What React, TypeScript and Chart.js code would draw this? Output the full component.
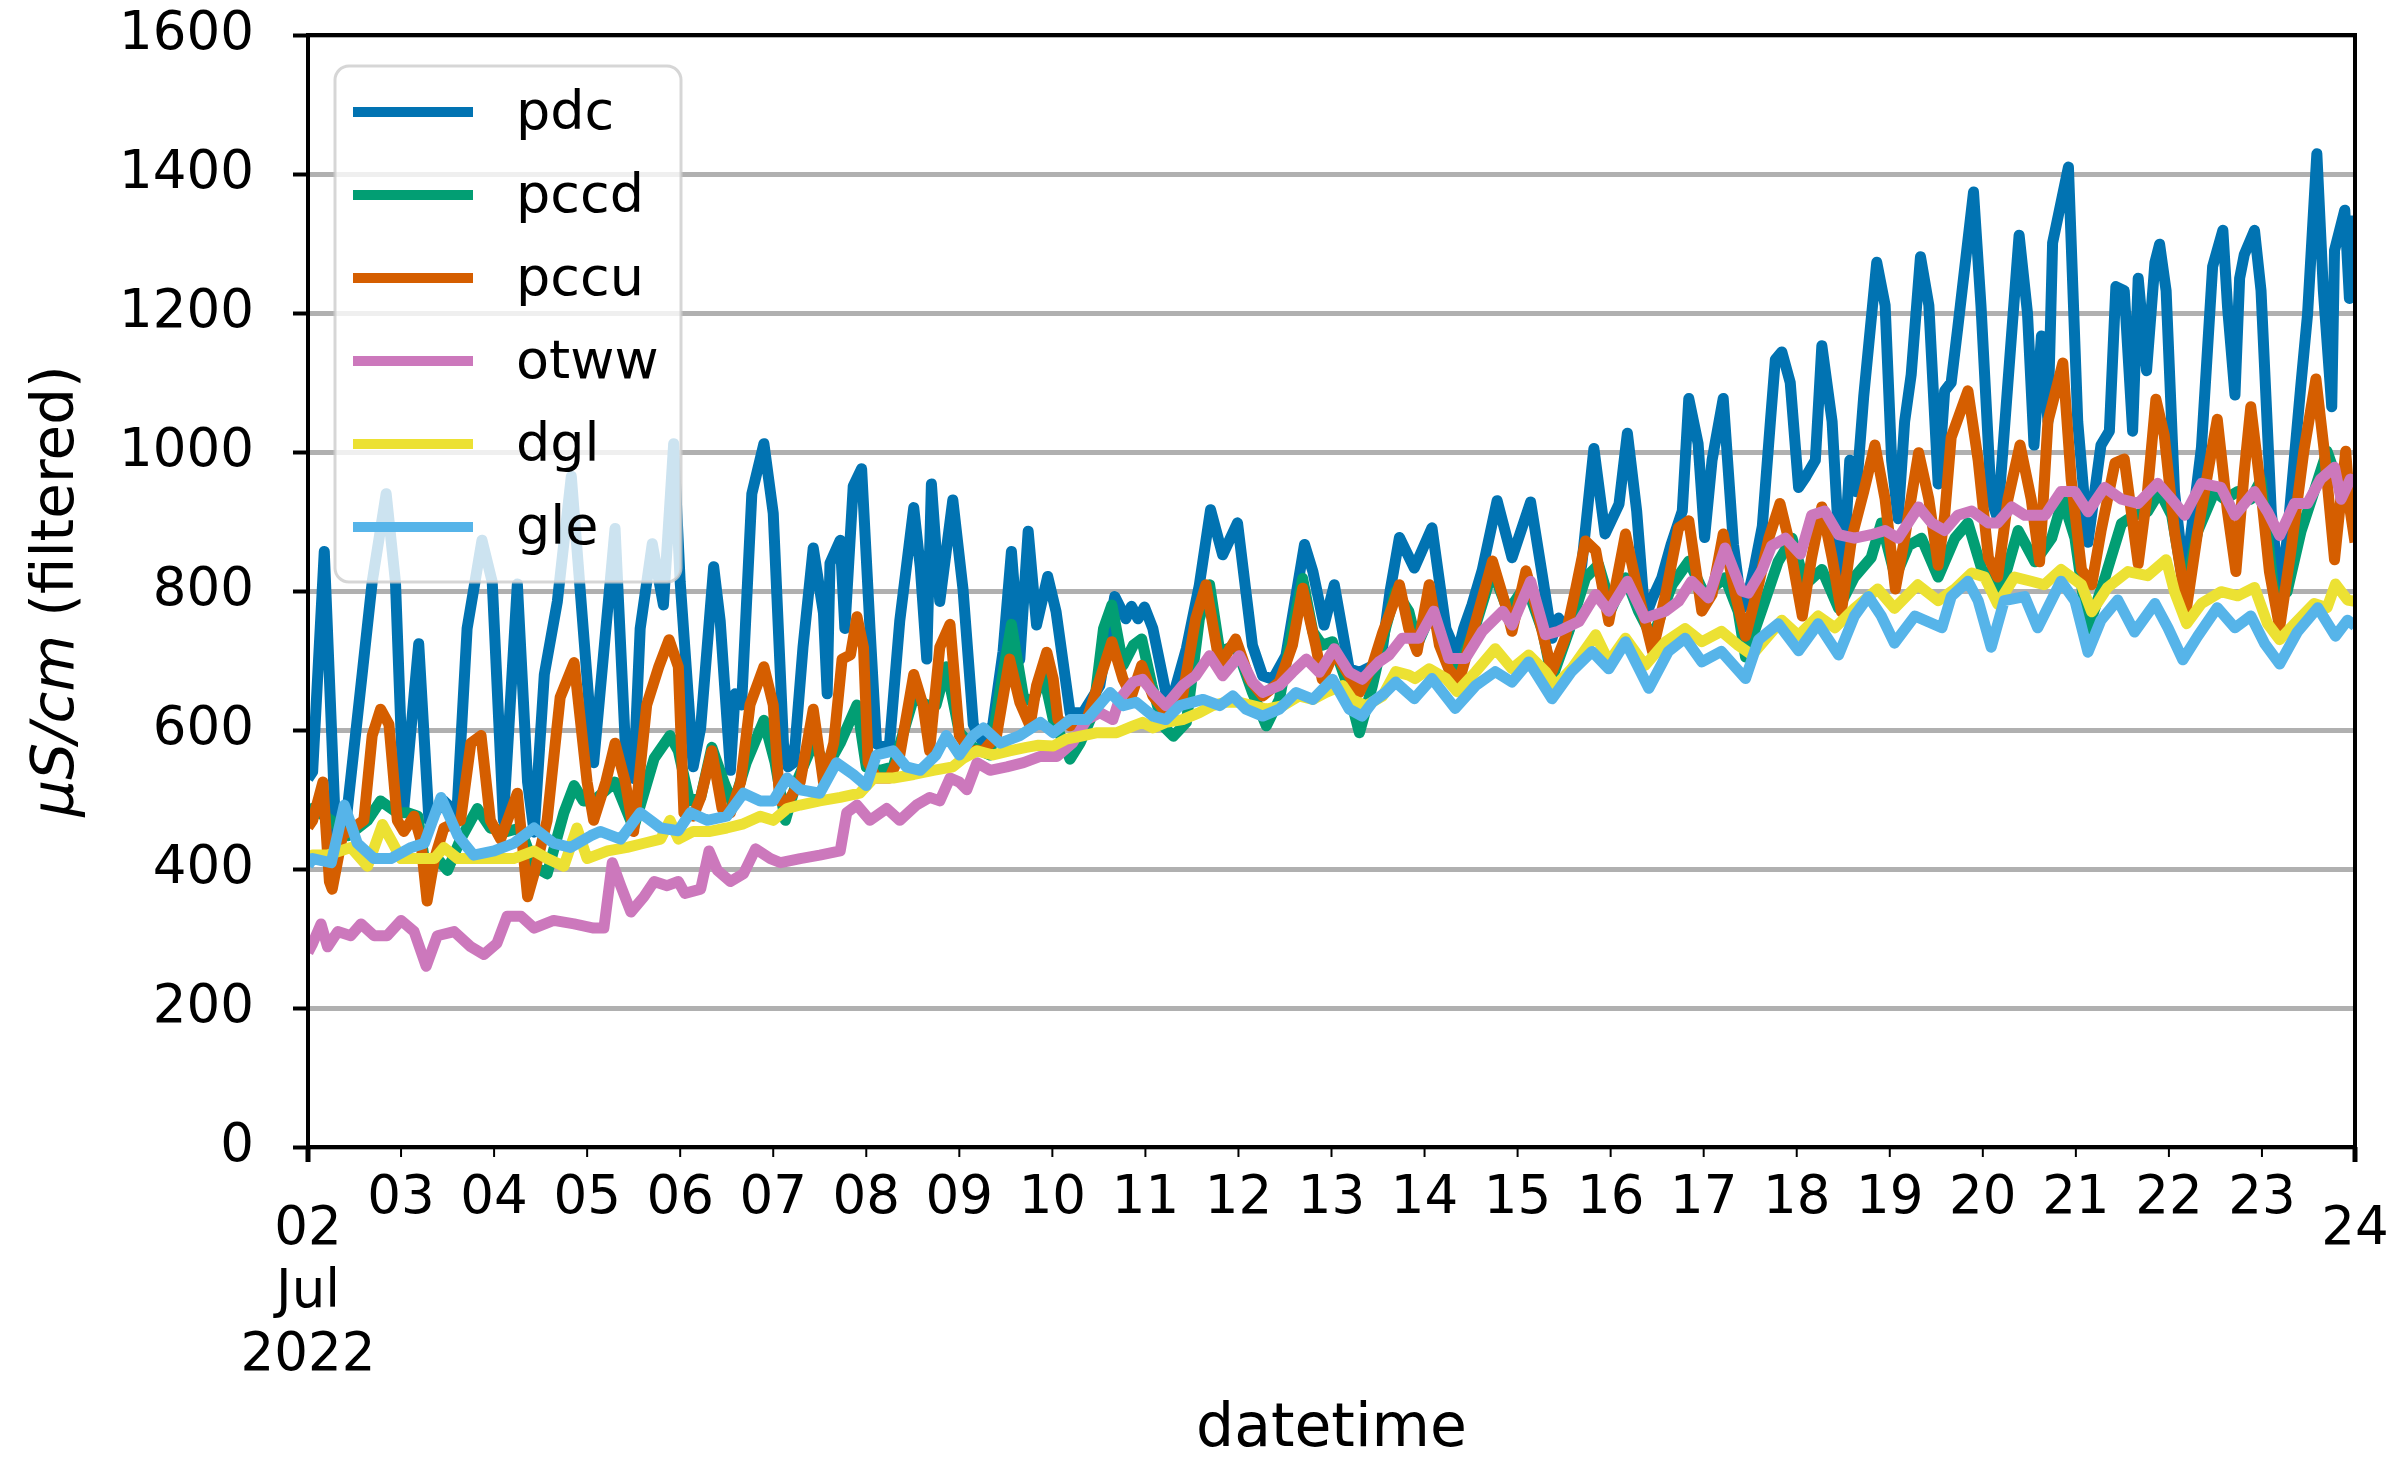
import React, { useEffect, useRef } from "react";
import { Chart, registerables } from "chart.js";

Chart.register(...registerables);

const W = 2390;
const H = 1459;
const PLOT = { left: 308, right: 2355, top: 35, bottom: 1147 };
const FONT = '"DejaVu Sans"';
const TICK_SIZE = 53;

// Series names and colours (seaborn "colorblind" palette)
const seriesNames = ["pdc", "pccd", "pccu", "otww", "dgl", "gle"];
const seriesColors = ["#0173b2", "#029e73", "#d55e00", "#cc78bc", "#ece133", "#56b4e9"];

// x ticks: days since 2 Jul 2022
const dayLabels = ["02", "03", "04", "05", "06", "07", "08", "09", "10", "11", "12", "13",
  "14", "15", "16", "17", "18", "19", "20", "21", "22", "23", "24"];
const monthLabel = "Jul";
const yearLabel = "2022";
const yTickLabels = ["0", "200", "400", "600", "800", "1000", "1200", "1400", "1600"];
const xTitle = "datetime";
const yTitleMath = "µS/cm";
const yTitleText = " (filtered)";

// [day offset, conductivity µS/cm]
const pdc: [number, number][] = [
  [0, 530], [0.05, 540], [0.175, 857], [0.3, 443], [0.41, 470], [0.59, 690], [0.69, 813], [0.84, 940],
  [0.94, 813], [1.03, 487], [1.19, 724], [1.3, 470], [1.46, 498], [1.6, 480], [1.71, 746], [1.87, 873],
  [1.98, 813], [2.1, 470], [2.25, 810], [2.36, 525], [2.43, 453], [2.54, 680], [2.68, 785], [2.83, 965],
  [3.07, 553], [3.3, 890], [3.41, 580], [3.5, 530], [3.57, 746], [3.7, 868], [3.82, 780], [3.93, 1012],
  [4.0, 813], [4.14, 547], [4.22, 603], [4.36, 835], [4.43, 757], [4.54, 542], [4.59, 652], [4.66, 636],
  [4.77, 940], [4.9, 1012], [5.0, 912], [5.11, 580], [5.16, 547], [5.22, 553], [5.32, 719], [5.43, 862],
  [5.54, 768], [5.58, 652], [5.61, 840], [5.72, 873], [5.77, 746], [5.86, 951], [5.95, 976], [6.04, 746],
  [6.11, 580], [6.18, 575], [6.25, 580], [6.36, 757], [6.51, 920], [6.58, 835], [6.65, 702], [6.7, 954],
  [6.79, 785], [6.93, 931], [7.04, 802], [7.15, 608], [7.26, 580], [7.36, 608], [7.47, 713], [7.56, 857],
  [7.65, 702], [7.74, 886], [7.83, 751], [7.95, 821], [8.04, 770], [8.19, 625], [8.33, 625], [8.51, 664],
  [8.67, 792], [8.79, 760], [8.85, 778], [8.92, 760], [8.99, 777], [9.08, 746], [9.22, 654], [9.3, 650],
  [9.44, 717], [9.58, 809], [9.7, 917], [9.83, 852], [9.99, 898], [10.15, 722], [10.26, 678], [10.37, 673],
  [10.51, 707], [10.71, 867], [10.8, 828], [10.92, 751], [11.03, 809], [11.19, 688], [11.3, 683], [11.45, 693],
  [11.55, 720], [11.63, 800], [11.73, 877], [11.89, 833], [12.08, 891], [12.23, 746], [12.35, 708], [12.42, 746],
  [12.51, 780], [12.62, 830], [12.78, 930], [12.94, 848], [13.14, 928], [13.27, 819], [13.37, 732], [13.44, 761],
  [13.55, 742], [13.69, 838], [13.82, 1005], [13.94, 882], [14.09, 925], [14.18, 1027], [14.28, 915], [14.37, 761],
  [14.45, 790], [14.55, 819], [14.65, 867], [14.77, 915], [14.84, 1077], [14.94, 1012], [15.01, 877], [15.09, 988],
  [15.21, 1077], [15.32, 867], [15.41, 775], [15.47, 790], [15.54, 831], [15.63, 893], [15.72, 1049], [15.77, 1133],
  [15.84, 1144], [15.93, 1100], [16.02, 949], [16.1, 965], [16.2, 988], [16.27, 1153], [16.38, 1044], [16.45, 876],
  [16.5, 820], [16.57, 988], [16.64, 943], [16.72, 1080], [16.86, 1273], [16.95, 1211], [17.02, 988], [17.09, 904],
  [17.16, 1044], [17.23, 1111], [17.33, 1281], [17.42, 1211], [17.52, 954], [17.59, 1088], [17.66, 1100], [17.73, 1178],
  [17.9, 1374], [17.98, 1211], [18.09, 932], [18.16, 904], [18.27, 1100], [18.39, 1312], [18.48, 1200], [18.55, 1010],
  [18.63, 1167], [18.7, 1044], [18.75, 1301], [18.92, 1410], [19.02, 1044], [19.13, 870], [19.27, 1010], [19.36, 1030],
  [19.43, 1238], [19.52, 1232], [19.61, 1030], [19.67, 1250], [19.76, 1117], [19.85, 1273], [19.9, 1299], [19.97, 1232],
  [20.06, 943], [20.17, 810], [20.24, 886], [20.35, 1007], [20.47, 1267], [20.58, 1319], [20.63, 1209], [20.71, 1082],
  [20.76, 1250], [20.81, 1284], [20.92, 1319], [20.99, 1232], [21.1, 914], [21.19, 795], [21.27, 874], [21.42, 1099],
  [21.49, 1198], [21.59, 1429], [21.66, 1232], [21.75, 1065], [21.78, 1290], [21.89, 1348], [21.94, 1221], [22.0, 1340],
];

const pccd: [number, number][] = [
  [0, 480], [0.05, 487], [0.25, 470], [0.43, 448], [0.64, 470], [0.78, 498], [0.96, 481], [1.07, 481],
  [1.18, 476], [1.28, 387], [1.39, 415], [1.5, 398], [1.64, 443], [1.82, 487], [1.96, 459], [2.14, 454],
  [2.28, 459], [2.43, 404], [2.57, 393], [2.75, 481], [2.86, 520], [2.96, 498], [3.07, 498], [3.3, 525],
  [3.5, 459], [3.72, 559], [3.89, 592], [3.98, 570], [4.1, 498], [4.22, 503], [4.34, 575], [4.47, 525],
  [4.57, 492], [4.71, 553], [4.9, 614], [5.02, 553], [5.13, 470], [5.25, 525], [5.43, 581], [5.58, 547],
  [5.72, 581], [5.9, 636], [6.0, 547], [6.15, 542], [6.29, 547], [6.51, 647], [6.65, 636], [6.75, 636],
  [6.86, 691], [7.0, 597], [7.15, 575], [7.33, 564], [7.44, 658], [7.56, 752], [7.69, 647], [7.79, 640],
  [7.9, 683], [8.01, 615], [8.12, 582], [8.19, 558], [8.3, 582], [8.44, 625], [8.55, 746], [8.64, 780],
  [8.76, 693], [8.87, 722], [8.96, 731], [9.07, 664], [9.19, 606], [9.3, 591], [9.44, 611], [9.58, 760],
  [9.69, 809], [9.8, 712], [9.97, 722], [10.15, 654], [10.3, 606], [10.44, 644], [10.58, 746], [10.69, 818],
  [10.8, 741], [10.9, 722], [11.01, 727], [11.15, 673], [11.3, 596], [11.44, 664], [11.58, 746], [11.69, 800],
  [11.83, 771], [11.92, 722], [12.08, 771], [12.23, 708], [12.33, 674], [12.55, 751], [12.73, 829], [12.9, 771],
  [13.09, 809], [13.27, 742], [13.37, 674], [13.55, 742], [13.73, 819], [13.87, 838], [14.01, 775], [14.16, 819],
  [14.3, 771], [14.45, 732], [14.66, 809], [14.84, 843], [15.01, 795], [15.23, 819], [15.37, 771], [15.45, 705],
  [15.63, 775], [15.8, 842], [15.95, 876], [16.09, 809], [16.27, 831], [16.45, 775], [16.62, 820], [16.8, 848],
  [16.91, 898], [17.06, 820], [17.2, 865], [17.34, 876], [17.52, 820], [17.7, 876], [17.84, 898], [17.99, 831],
  [18.2, 803], [18.38, 887], [18.56, 842], [18.74, 876], [18.86, 932], [18.99, 876], [19.13, 745], [19.31, 818],
  [19.49, 897], [19.63, 909], [19.77, 914], [19.9, 943], [20.03, 909], [20.17, 799], [20.31, 886], [20.49, 943],
  [20.6, 932], [20.74, 943], [20.88, 932], [20.99, 960], [21.13, 799], [21.27, 799], [21.42, 886], [21.56, 943],
  [21.7, 1001], [21.85, 943], [22.0, 930],
];

const pccu: [number, number][] = [
  [0, 460], [0.05, 470], [0.16, 525], [0.23, 382], [0.26, 371], [0.37, 448], [0.6, 470], [0.69, 592],
  [0.78, 630], [0.87, 608], [0.96, 470], [1.03, 454], [1.14, 476], [1.21, 443], [1.28, 354], [1.36, 415],
  [1.46, 459], [1.64, 470], [1.75, 581], [1.86, 592], [1.96, 470], [2.07, 443], [2.25, 509], [2.36, 360],
  [2.43, 393], [2.57, 470], [2.71, 647], [2.86, 697], [3.0, 525], [3.07, 470], [3.2, 525], [3.3, 581],
  [3.41, 525], [3.5, 454], [3.64, 636], [3.77, 691], [3.88, 730], [3.98, 691], [4.04, 481], [4.14, 476],
  [4.22, 503], [4.34, 570], [4.45, 487], [4.54, 481], [4.65, 525], [4.75, 636], [4.9, 691], [5.0, 636],
  [5.07, 498], [5.16, 498], [5.29, 525], [5.43, 630], [5.54, 525], [5.65, 581], [5.74, 702], [5.83, 708],
  [5.9, 763], [5.97, 719], [6.02, 553], [6.11, 531], [6.25, 531], [6.36, 564], [6.51, 680], [6.61, 636],
  [6.68, 570], [6.79, 719], [6.9, 752], [7.0, 592], [7.11, 570], [7.26, 570], [7.4, 592], [7.54, 702],
  [7.65, 640], [7.76, 606], [7.83, 664], [7.94, 712], [8.01, 673], [8.06, 615], [8.19, 606], [8.37, 615],
  [8.51, 673], [8.64, 727], [8.76, 673], [8.85, 649], [8.96, 693], [9.08, 649], [9.22, 625], [9.4, 649],
  [9.54, 760], [9.65, 809], [9.8, 693], [9.97, 731], [10.12, 673], [10.26, 649], [10.44, 669], [10.58, 722],
  [10.69, 804], [10.83, 722], [10.9, 673], [11.03, 712], [11.19, 678], [11.3, 654], [11.44, 693], [11.55, 740],
  [11.66, 780], [11.73, 809], [11.83, 746], [11.92, 713], [12.05, 809], [12.16, 722], [12.26, 688], [12.37, 669],
  [12.55, 756], [12.73, 843], [12.87, 780], [12.94, 742], [13.09, 829], [13.23, 761], [13.37, 684], [13.51, 732],
  [13.62, 800], [13.73, 872], [13.84, 858], [13.98, 756], [14.16, 882], [14.3, 795], [14.45, 713], [14.59, 795],
  [14.73, 891], [14.84, 901], [14.98, 771], [15.09, 795], [15.21, 882], [15.34, 795], [15.45, 735], [15.59, 809],
  [15.7, 876], [15.82, 926], [15.91, 876], [16.06, 764], [16.16, 848], [16.27, 921], [16.38, 848], [16.48, 770],
  [16.59, 876], [16.72, 943], [16.84, 1010], [16.95, 932], [17.06, 803], [17.16, 876], [17.31, 999], [17.42, 932],
  [17.52, 837], [17.59, 909], [17.66, 1021], [17.84, 1088], [17.95, 988], [18.06, 848], [18.16, 820], [18.27, 932],
  [18.4, 1010], [18.52, 932], [18.61, 842], [18.7, 1044], [18.86, 1128], [18.95, 960], [19.06, 831], [19.17, 809],
  [19.27, 886], [19.42, 984], [19.52, 990], [19.67, 839], [19.77, 943], [19.86, 1076], [19.95, 1024], [20.06, 886],
  [20.19, 776], [20.31, 886], [20.42, 972], [20.52, 1047], [20.63, 914], [20.72, 828], [20.81, 972], [20.88, 1065],
  [20.99, 943], [21.08, 828], [21.19, 747], [21.31, 857], [21.45, 1001], [21.58, 1105], [21.67, 1001], [21.78, 845],
  [21.9, 1001], [21.95, 914], [22.0, 870],
];

const otww: [number, number][] = [
  [0, 280], [0.05, 293], [0.14, 321], [0.21, 288], [0.32, 310], [0.46, 304], [0.57, 321], [0.71, 304],
  [0.85, 304], [1.0, 326], [1.14, 310], [1.27, 260], [1.39, 304], [1.57, 310], [1.75, 288], [1.89, 277],
  [2.03, 293], [2.14, 332], [2.29, 332], [2.43, 315], [2.64, 326], [2.86, 321], [3.07, 315], [3.18, 315],
  [3.27, 409], [3.36, 376], [3.47, 338], [3.61, 360], [3.72, 382], [3.86, 376], [3.98, 382], [4.05, 365],
  [4.22, 371], [4.31, 426], [4.4, 398], [4.54, 382], [4.68, 393], [4.81, 429], [4.97, 415], [5.08, 409],
  [5.29, 415], [5.5, 420], [5.72, 426], [5.79, 481], [5.9, 492], [6.04, 470], [6.22, 487], [6.36, 470],
  [6.54, 492], [6.68, 503], [6.79, 498], [6.9, 531], [7.0, 525], [7.08, 514], [7.19, 553], [7.33, 542],
  [7.51, 547], [7.69, 553], [7.87, 562], [8.05, 562], [8.22, 582], [8.37, 615], [8.51, 625], [8.65, 615],
  [8.72, 644], [8.87, 669], [8.97, 673], [9.08, 654], [9.22, 635], [9.4, 664], [9.54, 678], [9.69, 707],
  [9.83, 678], [10.01, 707], [10.15, 669], [10.26, 654], [10.44, 664], [10.58, 683], [10.73, 702], [10.87, 683],
  [11.03, 717], [11.19, 683], [11.33, 673], [11.51, 698], [11.62, 708], [11.76, 732], [11.94, 732], [12.1, 771],
  [12.26, 703], [12.44, 703], [12.62, 742], [12.84, 771], [12.94, 751], [13.14, 814], [13.3, 737], [13.44, 742],
  [13.66, 756], [13.84, 795], [13.98, 771], [14.18, 814], [14.37, 761], [14.59, 771], [14.73, 785], [14.87, 814],
  [15.05, 790], [15.23, 862], [15.41, 800], [15.48, 797], [15.63, 831], [15.73, 865], [15.88, 876], [16.04, 853],
  [16.16, 909], [16.3, 915], [16.45, 881], [16.62, 876], [16.8, 881], [16.95, 887], [17.09, 876], [17.31, 921],
  [17.45, 898], [17.59, 887], [17.73, 909], [17.88, 915], [18.06, 898], [18.16, 898], [18.31, 921], [18.45, 909],
  [18.67, 909], [18.84, 943], [18.99, 943], [19.13, 914], [19.31, 949], [19.49, 932], [19.67, 926], [19.88, 955],
  [20.03, 932], [20.17, 909], [20.35, 955], [20.56, 949], [20.71, 909], [20.92, 943], [21.06, 914], [21.19, 880],
  [21.35, 926], [21.49, 926], [21.63, 961], [21.78, 978], [21.85, 932], [21.95, 961], [22.0, 955],
];

const dgl: [number, number][] = [
  [0, 415], [0.05, 420], [0.21, 420], [0.46, 431], [0.64, 404], [0.8, 464], [0.9, 440], [1.0, 415],
  [1.18, 415], [1.36, 415], [1.46, 431], [1.61, 415], [1.78, 415], [2.0, 415], [2.21, 415], [2.43, 426],
  [2.57, 415], [2.75, 404], [2.89, 459], [3.0, 415], [3.22, 426], [3.43, 431], [3.61, 437], [3.79, 443],
  [3.89, 470], [3.98, 443], [4.14, 454], [4.32, 454], [4.5, 459], [4.68, 465], [4.86, 476], [5.0, 470],
  [5.15, 487], [5.29, 492], [5.5, 498], [5.72, 503], [5.93, 509], [6.08, 531], [6.29, 531], [6.51, 536],
  [6.72, 542], [6.93, 547], [7.04, 559], [7.19, 570], [7.36, 564], [7.54, 570], [7.72, 575], [7.85, 578],
  [8.01, 577], [8.15, 587], [8.3, 591], [8.47, 596], [8.69, 596], [8.87, 606], [8.97, 611], [9.08, 603],
  [9.22, 611], [9.4, 615], [9.58, 625], [9.72, 635], [9.87, 640], [10.01, 640], [10.15, 635], [10.3, 630],
  [10.48, 635], [10.65, 649], [10.8, 644], [10.94, 654], [11.12, 664], [11.22, 644], [11.37, 635], [11.55, 649],
  [11.69, 684], [11.83, 679], [11.9, 674], [12.05, 688], [12.23, 674], [12.35, 655], [12.55, 684], [12.76, 717],
  [12.94, 688], [13.12, 708], [13.3, 684], [13.41, 664], [13.58, 688], [13.84, 737], [13.98, 698], [14.16, 732],
  [14.37, 693], [14.59, 727], [14.8, 746], [14.98, 727], [15.19, 742], [15.37, 722], [15.52, 708], [15.66, 730],
  [15.84, 758], [16.02, 736], [16.23, 764], [16.41, 747], [16.62, 775], [16.87, 803], [17.05, 775], [17.3, 809],
  [17.52, 786], [17.7, 803], [17.88, 826], [18.02, 820], [18.16, 781], [18.34, 820], [18.52, 814], [18.66, 809],
  [18.84, 831], [19.06, 809], [19.17, 770], [19.34, 805], [19.56, 828], [19.77, 822], [19.97, 845], [20.06, 799],
  [20.19, 753], [20.35, 782], [20.56, 799], [20.74, 793], [20.92, 805], [21.06, 753], [21.19, 730], [21.35, 753],
  [21.56, 782], [21.7, 776], [21.79, 810], [21.92, 787], [22.0, 785],
];

const gle: [number, number][] = [
  [0, 405], [0.05, 415], [0.25, 409], [0.39, 492], [0.53, 437], [0.71, 415], [0.89, 415], [1.11, 431],
  [1.25, 437], [1.43, 503], [1.61, 448], [1.78, 420], [2.0, 426], [2.21, 437], [2.43, 459], [2.64, 437],
  [2.82, 431], [3.04, 448], [3.14, 454], [3.36, 443], [3.57, 481], [3.79, 459], [3.98, 455], [4.11, 481],
  [4.29, 470], [4.5, 476], [4.68, 509], [4.86, 498], [5.0, 498], [5.15, 531], [5.29, 514], [5.5, 509],
  [5.68, 553], [5.86, 536], [6.0, 520], [6.11, 564], [6.29, 570], [6.43, 547], [6.58, 542], [6.75, 564],
  [6.86, 592], [7.0, 564], [7.15, 592], [7.26, 603], [7.44, 581], [7.65, 592], [7.87, 611], [8.01, 596],
  [8.19, 615], [8.37, 615], [8.62, 654], [8.76, 635], [8.9, 640], [9.08, 620], [9.22, 615], [9.37, 635],
  [9.62, 644], [9.8, 635], [9.94, 649], [10.08, 630], [10.26, 620], [10.44, 630], [10.62, 654], [10.8, 644],
  [11.01, 673], [11.19, 630], [11.33, 620], [11.44, 640], [11.58, 654], [11.69, 669], [11.89, 645], [12.08, 674],
  [12.33, 631], [12.55, 664], [12.76, 684], [12.94, 669], [13.12, 698], [13.37, 645], [13.58, 684], [13.8, 713],
  [13.98, 688], [14.16, 727], [14.41, 660], [14.62, 713], [14.8, 732], [14.98, 698], [15.19, 713], [15.45, 674],
  [15.59, 730], [15.8, 753], [16.02, 714], [16.23, 753], [16.45, 708], [16.62, 764], [16.77, 792], [16.91, 764],
  [17.05, 725], [17.27, 764], [17.56, 747], [17.66, 792], [17.84, 814], [17.95, 786], [18.09, 719], [18.23, 786],
  [18.45, 792], [18.59, 747], [18.84, 814], [18.99, 786], [19.13, 712], [19.27, 758], [19.45, 787], [19.63, 741],
  [19.85, 782], [19.99, 747], [20.15, 701], [20.31, 735], [20.52, 776], [20.71, 747], [20.88, 764], [21.03, 724],
  [21.19, 695], [21.38, 741], [21.6, 776], [21.79, 735], [21.92, 758], [22.0, 750],
];

const seriesData = [pdc, pccd, pccu, otww, dgl, gle];

// Axes frame, date ticks, titles and the legend box
const decorations = {
  id: "decorations",
  afterDatasetsDraw(chart: any) {
    const { ctx, chartArea: a, scales } = chart;
    const xs = scales.x;
    ctx.save();

    // frame
    ctx.strokeStyle = "#000";
    ctx.lineWidth = 4;
    ctx.strokeRect(a.left, a.top, a.right - a.left, a.bottom - a.top);

    // x ticks and labels
    ctx.font = `${TICK_SIZE}px ${FONT}`;
    ctx.fillStyle = "#000";
    ctx.textAlign = "center";
    ctx.textBaseline = "alphabetic";
    dayLabels.forEach((lab, i) => {
      const x = xs.getPixelForValue(i);
      const major = i === 0 || i === dayLabels.length - 1;
      ctx.lineWidth = major ? 5 : 2;
      ctx.beginPath();
      ctx.moveTo(x, a.bottom);
      ctx.lineTo(x, a.bottom + (major ? 15 : 10));
      ctx.stroke();
      const lines = i === 0 ? [lab, monthLabel, yearLabel] : [lab];
      const base = a.bottom + (major ? 97 : 66);
      lines.forEach((t, k) => ctx.fillText(t, x, base + k * 63));
    });

    // x title
    ctx.font = `60px ${FONT}`;
    ctx.fillText(xTitle, (a.left + a.right) / 2, 1446);

    // y title (math part in italics)
    ctx.save();
    ctx.translate(73, (a.top + a.bottom) / 2);
    ctx.rotate(-Math.PI / 2);
    ctx.textAlign = "left";
    const mathFont = `italic 58px ${FONT}`;
    const textFont = `58px ${FONT}`;
    ctx.font = mathFont;
    const w1 = ctx.measureText(yTitleMath).width;
    ctx.font = textFont;
    const w2 = ctx.measureText(yTitleText).width;
    const start = -(w1 + w2) / 2;
    ctx.font = mathFont;
    ctx.fillText(yTitleMath, start, 0);
    ctx.font = textFont;
    ctx.fillText(yTitleText, start + w1, 0);
    ctx.restore();

    // legend
    const lx = 335, ly = 66, lw = 346, lh = 516, r = 14;
    ctx.beginPath();
    ctx.moveTo(lx + r, ly);
    ctx.arcTo(lx + lw, ly, lx + lw, ly + lh, r);
    ctx.arcTo(lx + lw, ly + lh, lx, ly + lh, r);
    ctx.arcTo(lx, ly + lh, lx, ly, r);
    ctx.arcTo(lx, ly, lx + lw, ly, r);
    ctx.closePath();
    ctx.fillStyle = "rgba(255,255,255,0.8)";
    ctx.fill();
    ctx.strokeStyle = "rgba(204,204,204,0.8)";
    ctx.lineWidth = 3;
    ctx.stroke();

    ctx.font = `54px ${FONT}`;
    ctx.textAlign = "left";
    seriesNames.forEach((name, i) => {
      const y = 112 + i * 83;
      ctx.strokeStyle = seriesColors[i];
      ctx.lineWidth = 10;
      ctx.beginPath();
      ctx.moveTo(353, y);
      ctx.lineTo(473, y);
      ctx.stroke();
      ctx.fillStyle = "#000";
      ctx.fillText(name, 516, y + 17);
    });

    ctx.restore();
  },
};

export default function App() {
  const canvasRef = useRef<HTMLCanvasElement | null>(null);

  useEffect(() => {
    const canvas = canvasRef.current;
    if (!canvas) return;
    const chart = new Chart(canvas, {
      type: "line",
      data: {
        datasets: seriesNames.map((name, i) => ({
          label: name,
          data: seriesData[i].map(([d, v]) => ({ x: d, y: v })),
          borderColor: seriesColors[i],
          backgroundColor: seriesColors[i],
          borderWidth: 11,
          pointRadius: 0,
          tension: 0,
          fill: false,
          borderJoinStyle: "round" as const,
          borderCapStyle: "butt" as const,
          order: seriesNames.length - i,
        })),
      },
      options: {
        animation: false,
        responsive: false,
        devicePixelRatio: 1,
        events: [],
        layout: { padding: { top: PLOT.top, right: W - PLOT.right, left: 0, bottom: 0 } },
        plugins: { legend: { display: false }, tooltip: { enabled: false } },
        scales: {
          x: {
            type: "linear",
            min: 0,
            max: dayLabels.length - 1,
            ticks: { display: false },
            grid: { display: false },
            border: { display: false },
            afterFit: (s: any) => {
              s.height = H - PLOT.bottom;
              s.paddingLeft = 0;
              s.paddingRight = 0;
            },
          },
          y: {
            type: "linear",
            min: 0,
            max: 1600,
            ticks: {
              stepSize: 200,
              color: "#000",
              padding: 39,
              font: { family: "DejaVu Sans", size: TICK_SIZE },
              callback: (v: any) => yTickLabels[Math.round(Number(v) / 200)] ?? "",
            },
            grid: {
              color: "#b0b0b0",
              lineWidth: 5,
              tickColor: "#000",
              tickLength: 15,
              tickWidth: 4,
            },
            border: { display: false },
            afterFit: (s: any) => {
              s.width = PLOT.left;
              // the plot edges are set by the layout padding alone
              s.paddingTop = 0;
              s.paddingBottom = 0;
            },
          },
        },
      },
      plugins: [decorations],
    });
    return () => chart.destroy();
  }, []);

  return (
    <div style={{ position: "fixed", left: 0, top: 0, width: W, height: H, background: "#fff" }}>
      <canvas ref={canvasRef} width={W} height={H} style={{ display: "block", width: W, height: H }} />
    </div>
  );
}
